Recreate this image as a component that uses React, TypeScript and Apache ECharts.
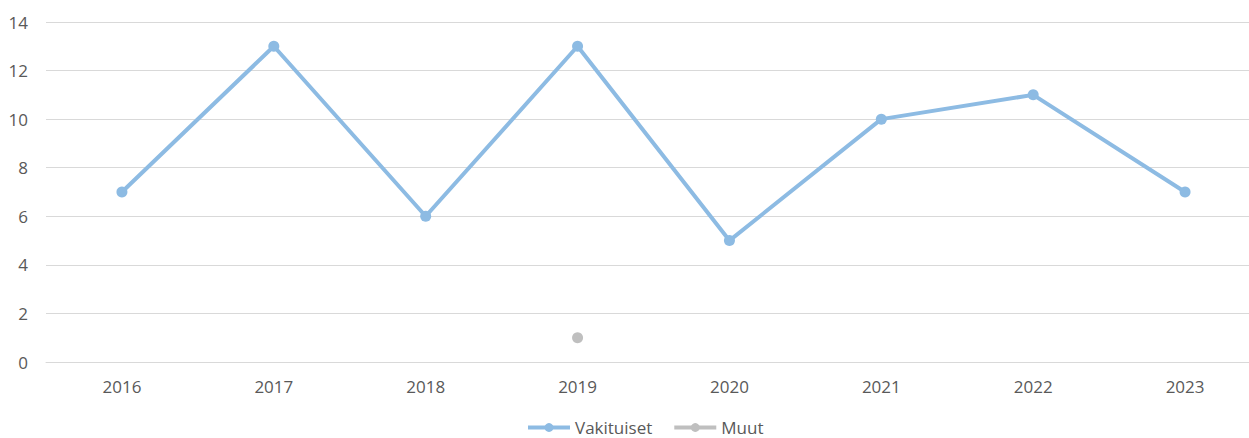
import React, { useEffect, useRef } from "react";
import * as echarts from "echarts";

const categories = ["2016", "2017", "2018", "2019", "2020", "2021", "2022", "2023"];
const vakituiset = [7, 13, 6, 13, 5, 10, 11, 7];
const muut: (number | null)[] = [null, null, null, 1, null, null, null, null];
const seriesNames = ["Vakituiset", "Muut"];

const FONT = "'Open Sans', 'Noto Sans', sans-serif";
const TEXT = "#595959";

export default function App() {
  const ref = useRef<HTMLDivElement>(null);
  useEffect(() => {
    document.body.style.margin = "0";
    const chart = echarts.init(ref.current!, undefined, { renderer: "svg" });
    chart.setOption({
      animation: false,
      textStyle: { fontFamily: FONT },
      grid: { left: 46, right: 0, top: 22, bottom: 76 },
      legend: {
        bottom: -3,
        left: 521,
        itemWidth: 42,
        itemHeight: 11,
        itemGap: 20,
        textStyle: { color: TEXT, fontSize: 17, fontFamily: FONT },
        lineStyle: { width: 4 },
        data: seriesNames,
      },
      xAxis: {
        type: "category",
        data: categories,
        boundaryGap: true,
        axisLine: { show: true, lineStyle: { color: "#d9d9d9", width: 1 } },
        axisTick: { show: false },
        axisLabel: { color: TEXT, fontSize: 17, margin: 16, fontFamily: FONT },
      },
      yAxis: {
        type: "value",
        min: 0,
        max: 14,
        interval: 2,
        axisLine: { show: false },
        axisTick: { show: false },
        axisLabel: { color: TEXT, fontSize: 17, margin: 18, fontFamily: FONT },
        splitLine: { lineStyle: { color: "#d9d9d9", width: 1 } },
      },
      series: [
        {
          name: seriesNames[0],
          type: "line",
          data: vakituiset,
          symbol: "circle",
          symbolSize: 11,
          lineStyle: { color: "#8dbbe3", width: 4 },
          itemStyle: { color: "#8dbbe3" },
        },
        {
          name: seriesNames[1],
          type: "line",
          data: muut,
          symbol: "circle",
          symbolSize: 11,
          lineStyle: { color: "#bfbfbf", width: 4 },
          itemStyle: { color: "#bfbfbf" },
        },
      ],
    });
    return () => chart.dispose();
  }, []);
  return (
    <div style={{ width: 1249, height: 438, overflow: "hidden" }}>
      <div ref={ref} style={{ width: 1261, height: 438 }} />
    </div>
  );
}
